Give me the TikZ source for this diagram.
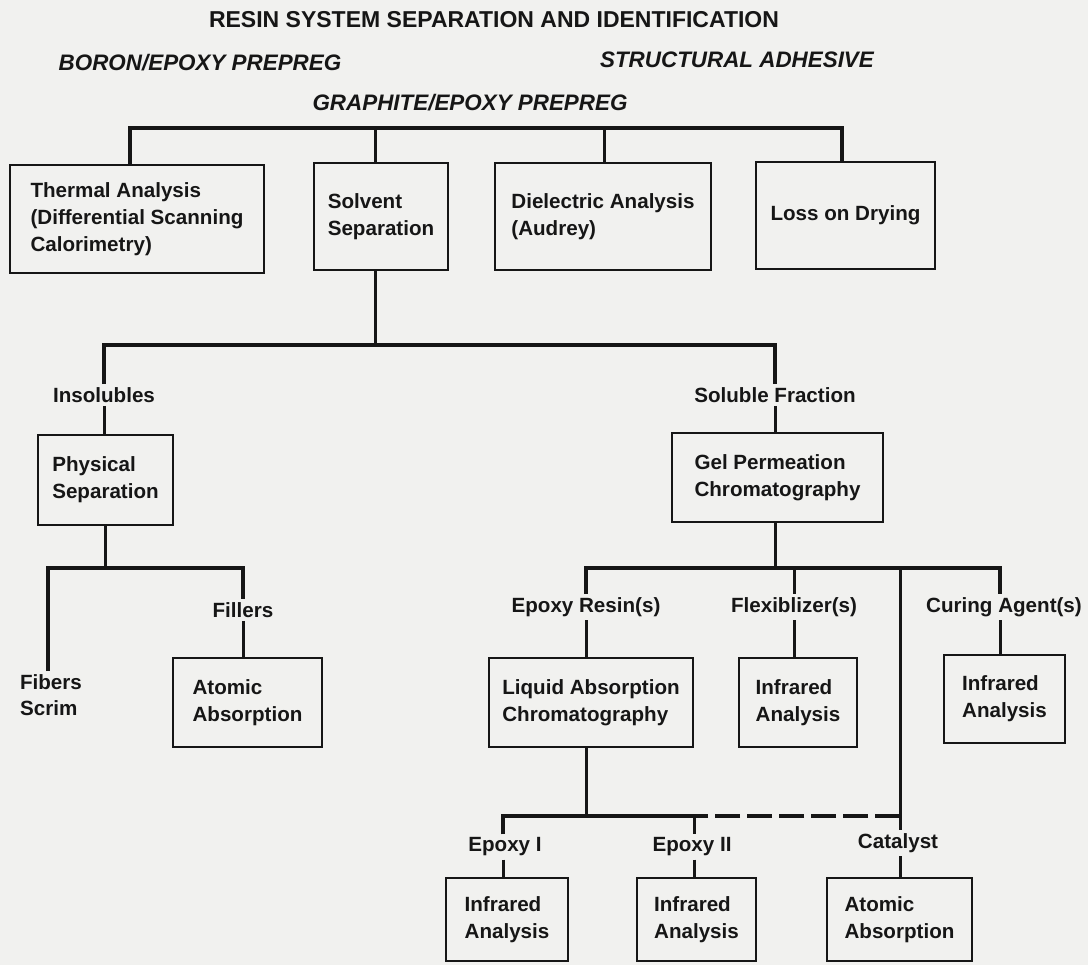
\documentclass[tikz,border=0pt]{standalone}
\usepackage{fontspec}
\setmainfont{Liberation Sans}
\definecolor{paper}{RGB}{241,241,239}
\definecolor{ink}{RGB}{22,22,22}

\begin{document}
\begin{tikzpicture}[x=0.5pt,y=-0.5pt,
    box/.style={draw=ink,line width=1.3pt,align=left,inner sep=0pt,text=ink,
      font=\fontsize{10.3}{13.5}\selectfont\bfseries},
    lab/.style={inner sep=1.5pt,align=left,text=ink,
      font=\fontsize{10.3}{13}\selectfont\bfseries},
    head/.style={text=ink,inner sep=0pt,font=\fontsize{11.2}{14}\selectfont\bfseries\itshape},
    bus/.style={draw=ink,line width=1.9pt},
    link/.style={draw=ink,line width=1.5pt}]
  \fill[paper] (0,0) rectangle (1088,965);
  \useasboundingbox (0,0) rectangle (1088,965);

  % headings
  \node[text=ink,font=\fontsize{11.5}{14}\selectfont\bfseries] (title) at (494,20) {RESIN SYSTEM SEPARATION AND IDENTIFICATION};
  \node[head] (boron) at (200,63) {BORON/EPOXY PREPREG};
  \node[head] (adhesive) at (737,60) {STRUCTURAL ADHESIVE};
  \node[head] (graphite) at (470,103) {GRAPHITE/EPOXY PREPREG};

  % first row of tests
  \node[box,minimum width=127pt,minimum height=54pt] (thermal) at (137,219) {Thermal Analysis\\(Differential Scanning\\Calorimetry)};
  \node[box,minimum width=67pt,minimum height=53.5pt] (solvent) at (381,216.5) {Solvent\\Separation};
  \node[box,minimum width=108pt,minimum height=53.5pt] (dielectric) at (603,216.5) {Dielectric Analysis\\(Audrey)};
  \node[box,minimum width=89.5pt,minimum height=53.5pt] (loss) at (845.5,215.5) {Loss on Drying};

  \coordinate (t1) at (130,128);
  \coordinate (t2) at (375,128);
  \coordinate (t3) at (604,128);
  \coordinate (t4) at (842,128);
  \draw[bus] (t1 |- thermal.north) -- (t1) -- (t4) -- (t4 |- loss.north);
  \draw[link] (t2) -- (t2 |- solvent.north);
  \draw[link] (t3) -- (t3 |- dielectric.north);

  % insolubles / soluble fraction
  \node[lab] (insol) at (104,395) {Insolubles};
  \node[lab] (soluble) at (775,395) {Soluble Fraction};
  \node[box,minimum width=67.5pt,minimum height=45pt] (physical) at (105.5,480) {Physical\\Separation};
  \node[box,minimum width=105.5pt,minimum height=44.5pt] (gel) at (777.5,477.5) {Gel Permeation\\Chromatography};

  \coordinate (s1) at (104,345);
  \coordinate (s2) at (775,345);
  \draw[link] (t2 |- solvent.south) -- (t2 |- s1);
  \draw[bus] (insol.north) -- (s1) -- (s2) -- (soluble.north);
  \draw[link] (insol.south) -- (insol.south |- physical.north);
  \draw[link] (soluble.south) -- (soluble.south |- gel.north);

  % physical separation branch
  \node[lab] (fibers) at (51,695) {Fibers\\Scrim};
  \node[lab] (fillers) at (243,610) {Fillers};
  \node[box,minimum width=74.5pt,minimum height=44.5pt] (atomA) at (247.5,702.5) {Atomic\\Absorption};

  \coordinate (p1) at (48,568);
  \coordinate (p2) at (243,568);
  \draw[link] (physical.south) -- (physical.south |- p1);
  \draw[bus] (p1 |- fibers.north) -- (p1) -- (p2) -- (fillers.north);
  \draw[link] (fillers.south) -- (fillers.south |- atomA.north);

  % gel permeation branch
  \node[lab] (resin) at (586,607) {Epoxy Resin(s)};
  \node[lab] (flex) at (794,607) {Flexiblizer(s)};
  \node[lab] (curing) at (1004,607) {Curing Agent(s)};
  \node[box,minimum width=102pt,minimum height=44.5pt] (lac) at (591,702.5) {Liquid Absorption\\Chromatography};
  \node[box,minimum width=59pt,minimum height=44.5pt] (irflex) at (798,702.5) {Infrared\\Analysis};
  \node[box,minimum width=60.5pt,minimum height=44pt] (ircure) at (1004.5,699) {Infrared\\Analysis};

  \coordinate (g1) at (586,568);
  \coordinate (g2) at (794,568);
  \coordinate (g3) at (900,568);
  \coordinate (g4) at (1000,568);
  \draw[link] (s2 |- gel.south) -- (s2 |- g1);
  \draw[bus] (resin.north) -- (g1) -- (g4) -- (g4 |- curing.north);
  \draw[link] (g2) -- (flex.north);
  \draw[link] (flex.south) -- (g2 |- irflex.north);
  \draw[link] (resin.south) -- (resin.south |- lac.north);
  \draw[link] (g4 |- curing.south) -- (g4 |- ircure.north);

  % liquid absorption branch
  \node[lab] (epoxyI) at (505,847) {Epoxy I};
  \node[lab] (epoxyII) at (692,847) {Epoxy II};
  \node[lab] (catalyst) at (898,843) {Catalyst};
  \node[box,minimum width=61pt,minimum height=41.5pt] (ir1) at (507,919.5) {Infrared\\Analysis};
  \node[box,minimum width=59.5pt,minimum height=41.5pt] (ir2) at (696.5,919.5) {Infrared\\Analysis};
  \node[box,minimum width=72.5pt,minimum height=41.5pt] (atomB) at (899.5,919.5) {Atomic\\Absorption};

  \coordinate (e1) at (503,816);
  \coordinate (e2) at (694,816);
  \coordinate (e3) at (707,816);
  \draw[link] (g1 |- lac.south) -- (g1 |- e1);
  \draw[bus] (e1 |- epoxyI.north) -- (e1) -- (e3);
  \draw[bus,dash pattern=on 12.5pt off 3.5pt] (g3 |- e1) -- (e3);
  \draw[link] (g3) -- (g3 |- catalyst.north);
  \draw[link] (g3 |- catalyst.south) -- (g3 |- atomB.north);
  \draw[link] (e2) -- (e2 |- epoxyII.north);
  \draw[link] (e2 |- epoxyII.south) -- (e2 |- ir2.north);
  \draw[link] (e1 |- epoxyI.south) -- (e1 |- ir1.north);
\end{tikzpicture}
\end{document}
